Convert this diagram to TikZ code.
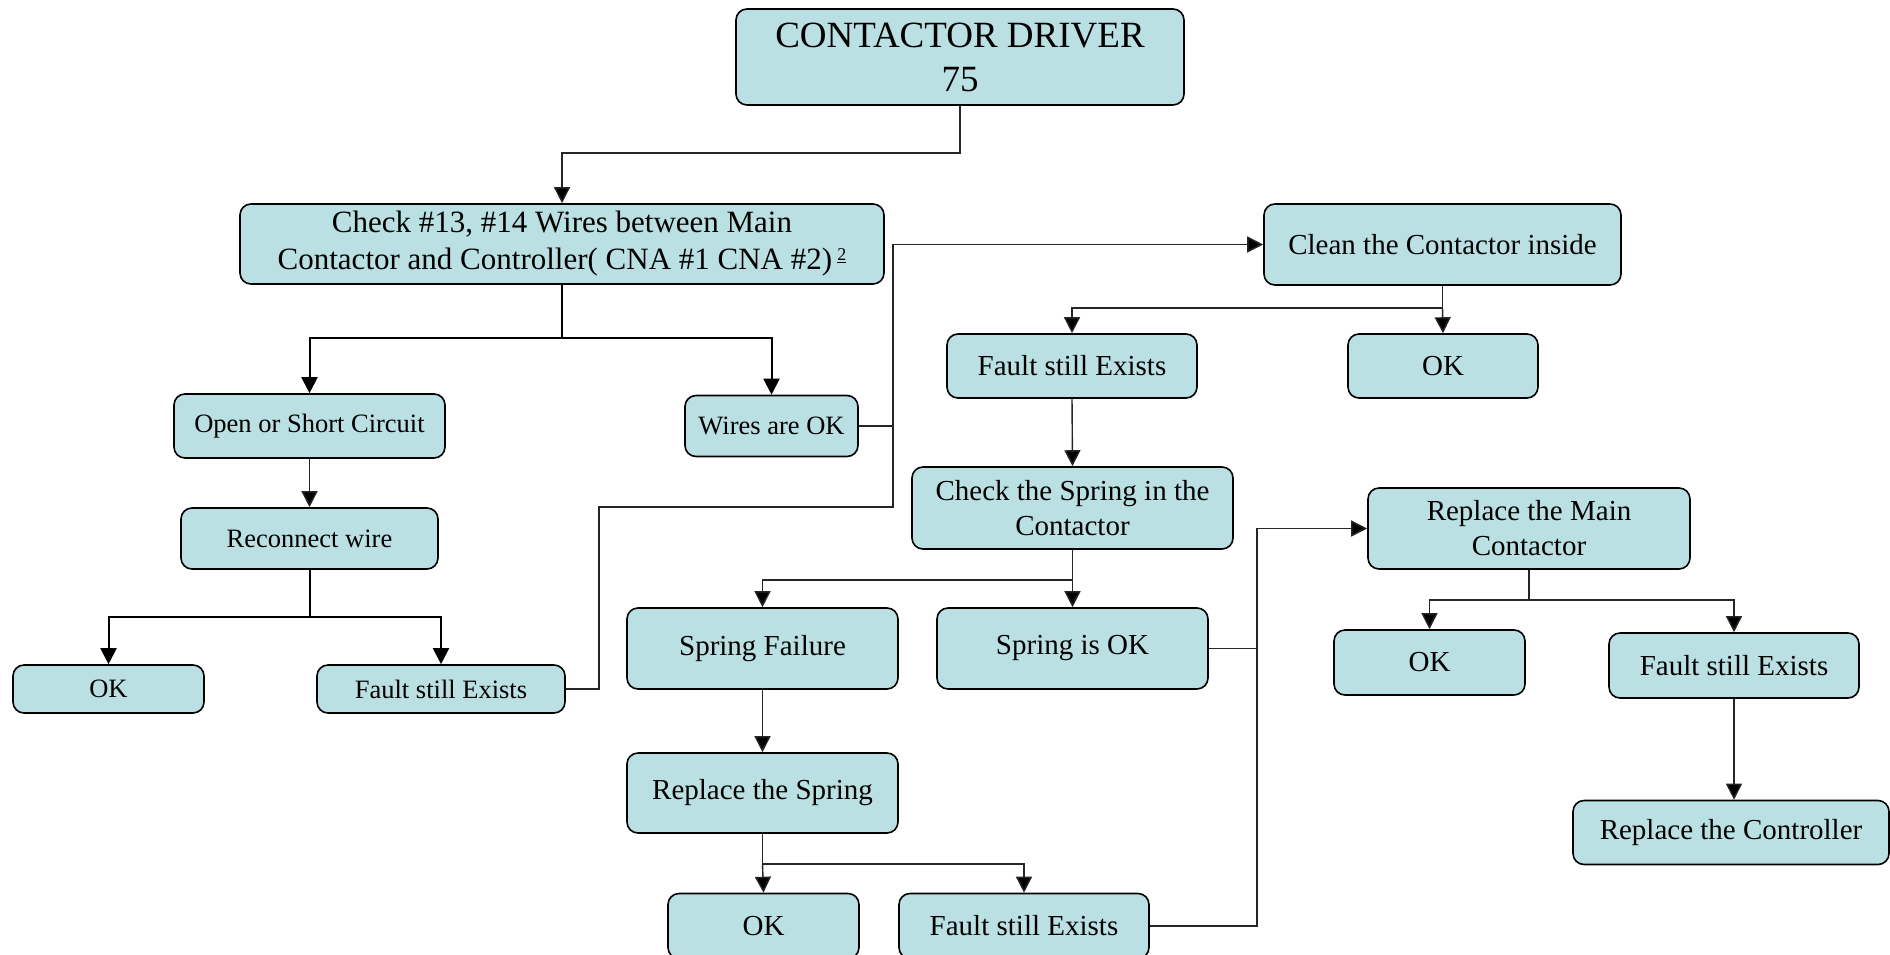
\documentclass[tikz,border=0pt]{standalone}
\usepackage{fontspec}
\setmainfont{Liberation Serif}
\usetikzlibrary{arrows.meta,calc}
\definecolor{boxfill}{RGB}{186,224,227}
\tikzset{
  box/.style={draw=black, line width=1.6pt, fill=boxfill, rounded corners=11pt, align=center, inner sep=0pt, font=\fontsize{29}{35}\selectfont},
  smallbox/.style={box, font=\fontsize{26.5}{32}\selectfont},
  tip/.style={-{Triangle[length=16pt,width=16pt,fill=black]}},
  line/.style={line width=1.4pt, draw=black!85},
  thk/.style={line width=2pt, draw=black},
}
\begin{document}
\begin{tikzpicture}[x=1pt,y=-1pt]
\path[use as bounding box] (0,0) rectangle (1890,954);
\clip (0,0) rectangle (1890,954);
% nodes
\node[box, font=\fontsize{37}{44}\selectfont, minimum width=448pt, minimum height=96pt] (top) at (960,57) {CONTACTOR DRIVER\\75};
\node[box, font=\fontsize{31}{37}\selectfont, minimum width=644pt, minimum height=80pt] (check) at (562,244) {Check \#13, \#14 Wires between Main\\Contactor and Controller( CNA \#1 CNA \#2)\,\raisebox{0.3em}{\fontsize{18}{18}\selectfont\underline{2}}};
\node[box, minimum width=357pt, minimum height=81pt] (clean) at (1442.5,244.5) {Clean the Contactor inside};
\node[box, minimum width=250pt, minimum height=64pt] (fault1) at (1072,366) {Fault still Exists};
\node[box, minimum width=190pt, minimum height=64pt] (ok1) at (1443,366) {OK};
\node[smallbox, minimum width=271pt, minimum height=64pt] (open) at (309.5,426) {Open or Short Circuit};
\node[smallbox, minimum width=173pt, minimum height=61pt] (wires) at (771.5,426) {Wires are OK};
\node[box, minimum width=321pt, minimum height=82pt] (sc) at (1072.5,508) {Check the Spring in the\\Contactor};
\node[smallbox, minimum width=257pt, minimum height=61pt] (recon) at (309.5,538.5) {Reconnect wire};
\node[box, minimum width=322pt, minimum height=81pt] (rm) at (1529,528.5) {Replace the Main\\Contactor};
\node[box, minimum width=271pt, minimum height=81pt] (sf) at (762.5,648.5) {Spring Failure};
\node[box, minimum width=271pt, minimum height=81pt] (so) at (1072.5,648.5) {Spring is OK};
\node[box, minimum width=191pt, minimum height=65pt] (ok2) at (1429.5,662.5) {OK};
\node[box, minimum width=250pt, minimum height=65pt] (fault2) at (1734,665.5) {Fault still Exists};
\node[smallbox, minimum width=191pt, minimum height=48pt] (okL) at (108.5,689) {OK};
\node[smallbox, minimum width=248pt, minimum height=48pt] (faultL) at (441,689) {Fault still Exists};
\node[box, minimum width=271pt, minimum height=80pt] (rs) at (762.5,793) {Replace the Spring};
\node[box, minimum width=316pt, minimum height=64pt] (rc) at (1731,832.5) {Replace the Controller};
\node[box, minimum width=191pt, minimum height=65pt] (okB) at (763.5,926) {OK};
\node[box, minimum width=250pt, minimum height=65pt] (faultB) at (1024,926) {Fault still Exists};
% junctions
\coordinate (j0) at (960,153);
\coordinate (j1) at (562,338);
\coordinate (jw) at (893,426);
\coordinate (jL) at (599,507);
\coordinate (j2) at (1442.5,308);
\coordinate (j3) at (1072.5,580);
\coordinate (j4) at (762.5,864);
\coordinate (jr) at (1257,648.5);
\coordinate (j5) at (1529,600);
\coordinate (j6) at (309.5,617);
% connectors
\draw[line,tip] (top.south) -- (j0) -| (check.north);
\draw[thk] (check.south) -- (j1);
\draw[thk,tip] (j1) -| (open.north);
\draw[thk,tip] (j1) -| (wires.north);
\draw[line,tip] (open.south) -- (recon.north);
\draw[thk] (recon.south) -- (j6);
\draw[thk,tip] (j6) -| (okL.north);
\draw[thk,tip] (j6) -| (faultL.north);
\draw[line,tip] (wires.east) -- (jw) |- (clean.west);
\draw[line] (faultL.east) -| (jL) -| (jw);
\draw[line] (clean.south) -- (j2);
\draw[line,tip] (j2) -| (fault1.north);
\draw[line,tip] (j2) -- (ok1.north);
\draw[line,tip] (fault1.south) -- (sc.north);
\draw[line] (sc.south) -- (j3);
\draw[line,tip] (j3) -| (sf.north);
\draw[line,tip] (j3) -- (so.north);
\draw[line,tip] (sf.south) -- (rs.north);
\draw[line] (rs.south) -- (j4);
\draw[line,tip] (j4) -- (okB.north);
\draw[line,tip] (j4) -| (faultB.north);
\draw[line,tip] (so.east) -- (jr) |- (rm.west);
\draw[line] (faultB.east) -| (jr);
\draw[line] (rm.south) -- (j5);
\draw[line,tip] (j5) -| (ok2.north);
\draw[line,tip] (j5) -| (fault2.north);
\draw[line,tip] (fault2.south) -- (fault2.south |- rc.north);
\end{tikzpicture}
\end{document}
